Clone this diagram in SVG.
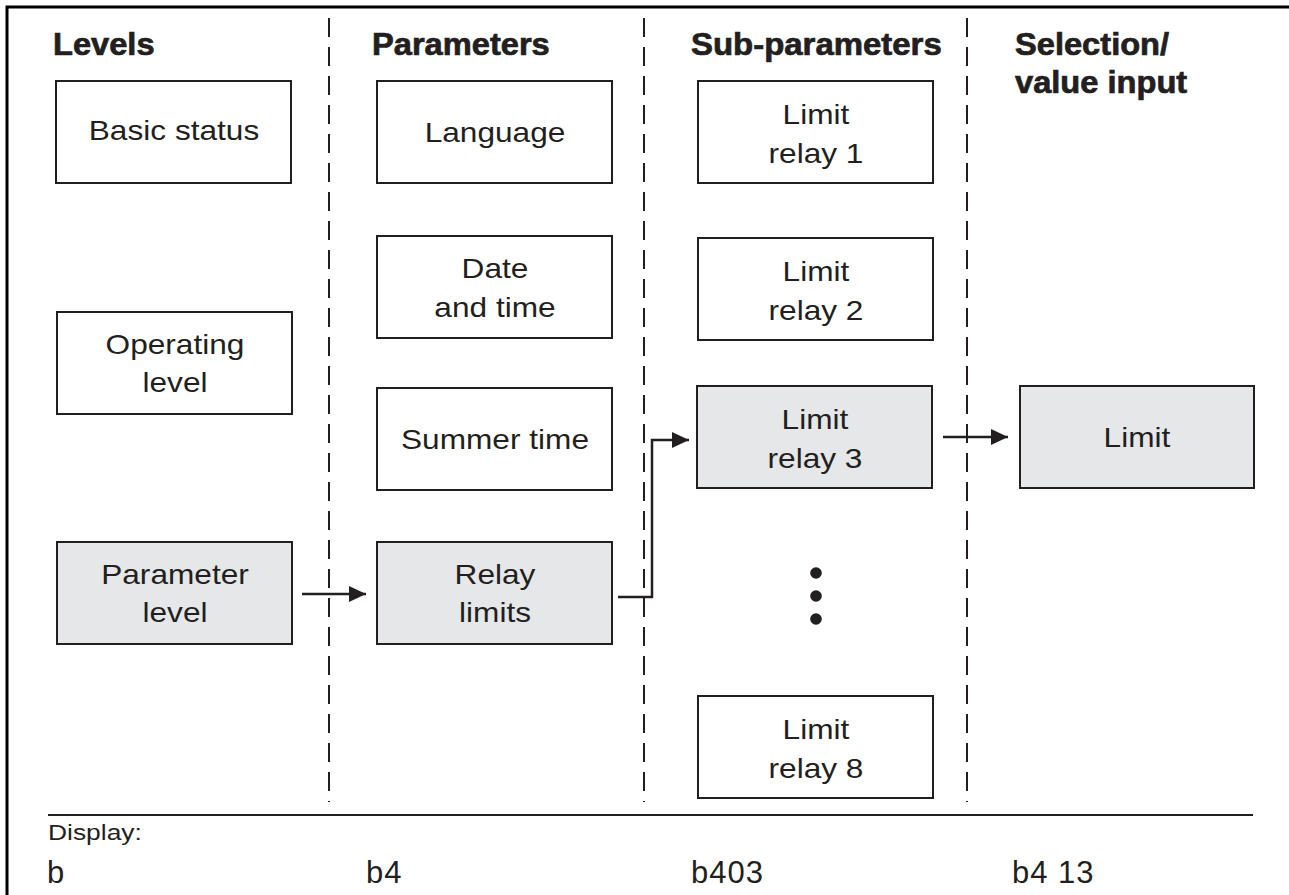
<svg xmlns="http://www.w3.org/2000/svg" width="1289" height="895" viewBox="0 0 1289 895">
<style>
.box{fill:#ffffff;stroke:#231f20;stroke-width:2}
.sel{fill:#e6e7e8;stroke:#231f20;stroke-width:2}
.lbl{font-family:"Liberation Sans",Arial,sans-serif;font-size:28px;fill:#231f20;text-anchor:middle}
.hd{font-family:"Liberation Sans",Arial,sans-serif;font-size:30.5px;font-weight:bold;fill:#231f20;stroke:#231f20;stroke-width:0.7px}
.disp{font-family:"Liberation Sans",Arial,sans-serif;font-size:22px;fill:#231f20}
.seg{font-family:"Liberation Sans Narrow","Liberation Sans",Arial,sans-serif;font-size:31px;font-weight:300;fill:#231f20;letter-spacing:1px}
.dash{stroke:#231f20;stroke-width:2;stroke-dasharray:19 10;fill:none}
.conn{stroke:#231f20;stroke-width:2.5;fill:none}
</style>
<defs>
<marker id="ah" markerUnits="userSpaceOnUse" markerWidth="19" markerHeight="17" refX="17" refY="8" orient="auto">
<path d="M0,0 L17,8 L0,16 z" fill="#231f20"/>
</marker>
</defs>
<rect width="1289" height="895" fill="#ffffff"/>
<path d="M7,895 V7 H1289" stroke="#000" stroke-width="3" fill="none"/>
<g id="dividers">
<line class="dash" x1="329" y1="18" x2="329" y2="802"/>
<line class="dash" x1="644" y1="18" x2="644" y2="802"/>
<line class="dash" x1="967" y1="18" x2="967" y2="802"/>
</g>
<g id="headings">
<text class="hd" transform="translate(53 55) scale(1.07 1)">Levels</text>
<text class="hd" transform="translate(372 55) scale(1.07 1)">Parameters</text>
<text class="hd" transform="translate(691 55) scale(1.08 1)">Sub-parameters</text>
<text class="hd" transform="translate(1015 55) scale(1.07 1)">Selection/</text>
<text class="hd" transform="translate(1015 93) scale(1.07 1)">value input</text>
</g>
<g id="basic-status"><rect class="box" x="56" y="81" width="235" height="102"/><text class="lbl" transform="translate(174 140) scale(1.13 1)">Basic status</text></g>
<g id="operating-level"><rect class="box" x="57" y="312" width="235" height="102"/><text class="lbl" transform="translate(175 354) scale(1.13 1)">Operating</text><text class="lbl" transform="translate(175 392) scale(1.13 1)">level</text></g>
<g id="parameter-level"><rect class="sel" x="57" y="542" width="235" height="102"/><text class="lbl" transform="translate(175 584) scale(1.13 1)">Parameter</text><text class="lbl" transform="translate(175 622) scale(1.13 1)">level</text></g>
<g id="language"><rect class="box" x="377" y="81" width="235" height="102"/><text class="lbl" transform="translate(495 142) scale(1.13 1)">Language</text></g>
<g id="date-time"><rect class="box" x="377" y="236" width="235" height="102"/><text class="lbl" transform="translate(495 278) scale(1.13 1)">Date</text><text class="lbl" transform="translate(495 317) scale(1.13 1)">and time</text></g>
<g id="summer-time"><rect class="box" x="377" y="388" width="235" height="102"/><text class="lbl" transform="translate(495 449) scale(1.13 1)">Summer time</text></g>
<g id="relay-limits"><rect class="sel" x="377" y="542" width="235" height="102"/><text class="lbl" transform="translate(495 584) scale(1.13 1)">Relay</text><text class="lbl" transform="translate(495 622) scale(1.13 1)">limits</text></g>
<g id="limit-relay-1"><rect class="box" x="698" y="81" width="235" height="102"/><text class="lbl" transform="translate(816 124) scale(1.13 1)">Limit</text><text class="lbl" transform="translate(816 163) scale(1.13 1)">relay 1</text></g>
<g id="limit-relay-2"><rect class="box" x="698" y="238" width="235" height="102"/><text class="lbl" transform="translate(816 281) scale(1.13 1)">Limit</text><text class="lbl" transform="translate(816 320) scale(1.13 1)">relay 2</text></g>
<g id="limit-relay-3"><rect class="sel" x="697" y="386" width="235" height="102"/><text class="lbl" transform="translate(815 429) scale(1.13 1)">Limit</text><text class="lbl" transform="translate(815 468) scale(1.13 1)">relay 3</text></g>
<g id="ellipsis"><circle cx="816" cy="573" r="5.8" fill="#231f20"/><circle cx="816" cy="596" r="5.8" fill="#231f20"/><circle cx="816" cy="619" r="5.8" fill="#231f20"/></g>
<g id="limit-relay-8"><rect class="box" x="698" y="696" width="235" height="102"/><text class="lbl" transform="translate(816 739) scale(1.13 1)">Limit</text><text class="lbl" transform="translate(816 778) scale(1.13 1)">relay 8</text></g>
<g id="limit"><rect class="sel" x="1020" y="386" width="234" height="102"/><text class="lbl" transform="translate(1137 447) scale(1.13 1)">Limit</text></g>
<g id="connectors">
<path class="conn" d="M302,594 H366" marker-end="url(#ah)"/>
<path class="conn" d="M618,597 H652 V440 H689" marker-end="url(#ah)"/>
<path class="conn" d="M943,437 H1008" marker-end="url(#ah)"/>
</g>
<g id="display">
<line x1="48" y1="815" x2="1253" y2="815" stroke="#231f20" stroke-width="2"/>
<text class="disp" transform="translate(48 840) scale(1.2 1)">Display:</text>
<text class="seg" x="47" y="883">b</text>
<text class="seg" x="366" y="883">b4</text>
<text class="seg" x="691" y="883">b403</text>
<text class="seg" x="1012" y="883">b4 13</text>
</g>
</svg>
